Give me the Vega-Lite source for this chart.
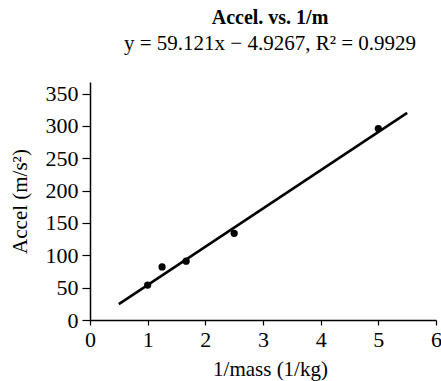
{
  "$schema": "https://vega.github.io/schema/vega-lite/v6.json",
  "autosize": {"type": "none"},
  "padding": {"left": 90, "top": 82, "right": 5, "bottom": 61},
  "width": 346,
  "height": 238,
  "background": "white",
  "config": {
    "view": {"stroke": null},
    "font": "Liberation Serif",
    "axis": {"grid": false, "domainColor": "black", "domainWidth": 1.5, "tickColor": "black", "tickWidth": 1.2, "labelColor": "black", "titleColor": "black", "labelFont": "Liberation Serif", "titleFont": "Liberation Serif", "labelFontSize": 22, "titleFontSize": 21, "titleFontWeight": "normal", "labelOverlap": false, "labelFlush": false}
  },
  "title": {
    "text": "Accel. vs. 1/m",
    "subtitle": "y = 59.121x − 4.9267, R² = 0.9929",
    "anchor": "middle",
    "dx": 7,
    "font": "Liberation Serif",
    "fontSize": 20,
    "fontWeight": "bold",
    "color": "black",
    "subtitleFont": "Liberation Serif",
    "subtitleFontSize": 21,
    "subtitleColor": "black",
    "subtitlePadding": 5,
    "offset": 28
  },
  "datasets": {
    "points": [
      {"inv_mass": 1.0, "accel": 54},
      {"inv_mass": 1.25, "accel": 82},
      {"inv_mass": 1.667, "accel": 91},
      {"inv_mass": 2.5, "accel": 134},
      {"inv_mass": 5.0, "accel": 296}
    ],
    "fit": [
      {"inv_mass": 0.5, "accel": 24.6},
      {"inv_mass": 5.5, "accel": 320.2}
    ]
  },
  "encoding": {
    "x": {"field": "inv_mass", "type": "quantitative", "scale": {"domain": [0, 6], "nice": false},
      "axis": {"title": "1/mass (1/kg)", "values": [0, 1, 2, 3, 4, 5, 6], "format": "d", "tickSize": 5, "labelPadding": 4, "titleX": 180, "titleY": 55, "titleBaseline": "alphabetic"}},
    "y": {"field": "accel", "type": "quantitative", "scale": {"domain": [0, 368], "nice": false},
      "axis": {"title": "Accel (m/s²)", "values": [0, 50, 100, 150, 200, 250, 300, 350], "format": "d", "tickSize": 8, "labelPadding": 4, "labelBaseline": "middle", "titleX": -64, "titleY": 119, "titleBaseline": "alphabetic", "titleAnchor": "middle"}}
  },
  "layer": [
    {
      "data": {"name": "fit"},
      "mark": {"type": "line", "color": "black", "strokeWidth": 2.5}
    },
    {
      "data": {"name": "points"},
      "mark": {"type": "point", "filled": true, "color": "black", "opacity": 1, "size": 52}
    }
  ]
}
